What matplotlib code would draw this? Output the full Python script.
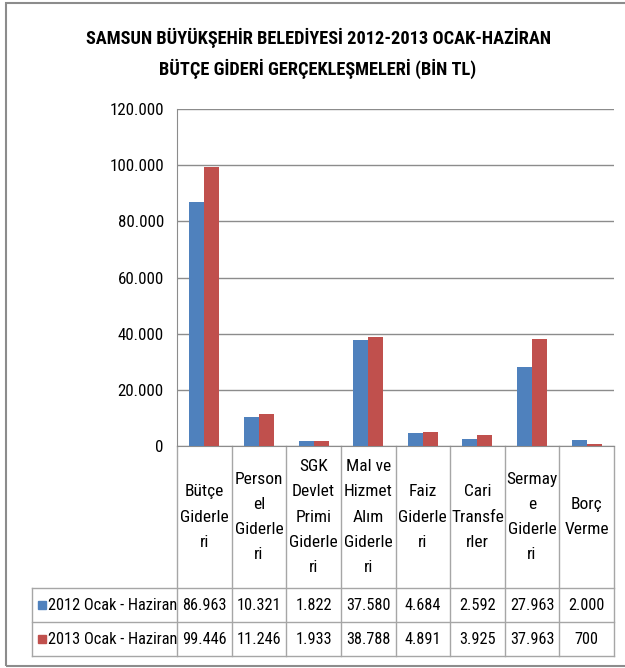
import matplotlib
matplotlib.use("Agg")
import matplotlib.pyplot as plt
from matplotlib import font_manager
from matplotlib.transforms import blended_transform_factory
from matplotlib.patches import Rectangle
from matplotlib.ticker import FuncFormatter

avail = {f.name for f in font_manager.fontManager.ttflist}
prefs = [("Roboto Condensed", 1.0), ("PT Sans Narrow", 1.05), ("Carlito", 1.0),
         ("Liberation Sans", 0.85)]
FONT, SC = "DejaVu Sans", 0.8
for name, sc in prefs:
    if name in avail:
        FONT, SC = name, sc
        break
plt.rcParams['font.family'] = [FONT, 'DejaVu Sans']

title = "SAMSUN BÜYÜKŞEHİR BELEDİYESİ 2012-2013 OCAK-HAZİRAN\nBÜTÇE GİDERİ GERÇEKLEŞMELERİ (BİN TL)"
categories = ["Bütçe\nGiderle\nri", "Person\nel\nGiderle\nri", "SGK\nDevlet\nPrimi\nGiderle\nri",
              "Mal ve\nHizmet\nAlım\nGiderle\nri", "Faiz\nGiderle\nri", "Cari\nTransfe\nrler",
              "Sermay\ne\nGiderle\nri", "Borç\nVerme"]
series_names = ["2012 Ocak - Haziran", "2013 Ocak - Haziran"]
values_2012 = [86963, 10321, 1822, 37580, 4684, 2592, 27963, 2000]
values_2013 = [99446, 11246, 1933, 38788, 4891, 3925, 37963, 700]
yticks = [0, 20000, 40000, 60000, 80000, 100000, 120000]
colors = ["#4F81BD", "#C0504D"]

W, H = 625, 668
fig = plt.figure(figsize=(W / 100, H / 100), dpi=100)

fig.patches.append(Rectangle((6 / W, 2 / H), (W + 10) / W, (664 - 1) / H, transform=fig.transFigure,
                             fill=False, edgecolor="#8c8c8c", linewidth=1.5))

left, right, top, bottom = 177, 614, 109, 446
ax = fig.add_axes([left / W, 1 - bottom / H, (right - left) / W, (bottom - top) / H])

n = len(categories)
xs = list(range(n))
bw = 0.275
ax.bar([x - bw / 2 for x in xs], values_2012, width=bw, color=colors[0], zorder=3)
ax.bar([x + bw / 2 for x in xs], values_2013, width=bw, color=colors[1], zorder=3)

ax.set_xlim(-0.5, n - 0.5)
ax.set_ylim(0, 120000)
ax.set_yticks(yticks)
ax.yaxis.set_major_formatter(FuncFormatter(lambda v, p: f"{int(v):,}".replace(",", ".")))
ax.tick_params(axis='y', length=0, labelsize=12.2 * SC, pad=9.5, colors="#000000")
ax.set_xticks([])
ax.grid(axis='y', color="#8c8c8c", linewidth=1, zorder=0)
for s in ["top", "right"]:
    ax.spines[s].set_visible(False)
ax.spines["left"].set_color("#8c8c8c")
ax.spines["bottom"].set_color("#8c8c8c")
ax.spines["left"].set_zorder(4)

fig.text(318 / W, 1 - 53.5 / H, title, ha="center", va="center", fontsize=13.2 * SC, fontweight="bold",
         linespacing=1.68)

ph = bottom - top
def ay(py):
    return -(py - bottom) / ph

tr = blended_transform_factory(ax.transData, ax.transAxes)
lc = "#a6a6a6"
y_head = ay(588)
y_r1 = ay(622)
y_r2 = ay(656)
y_top = 0.0
for b in [i - 0.5 for i in range(n + 1)]:
    ax.plot([b, b], [y_top, y_r2], color=lc, lw=1, transform=tr, clip_on=False)
x_leg = (32 - left) / (right - left) * n - 0.5
for yy in [y_head, y_r1, y_r2]:
    ax.plot([x_leg, n - 0.5], [yy, yy], color=lc, lw=1, transform=tr, clip_on=False)
ax.plot([x_leg, x_leg], [y_head, y_r2], color=lc, lw=1, transform=tr, clip_on=False)

for i, c in enumerate(categories):
    ax.text(i, (y_top + y_head) / 2, c, ha="center", va="center", fontsize=12.5 * SC, transform=tr,
            linespacing=1.85)

rows = [values_2012, values_2013]
for r, (vals, ytop_, ybot_) in enumerate(zip(rows, [y_head, y_r1], [y_r1, y_r2])):
    ym = (ytop_ + ybot_) / 2
    for i, v in enumerate(vals):
        ax.text(i, ym, f"{v:,}".replace(",", "."), ha="center", va="center", fontsize=11.7 * SC,
                transform=tr)
    kx = (38 - left) / (right - left) * n - 0.5
    kw = 8 / (right - left) * n
    kh = 8 / ph
    ax.add_patch(Rectangle((kx, ym - kh / 2), kw, kh, transform=tr, color=colors[r], clip_on=False))
    ax.text(kx + kw + 2 / (right - left) * n, ym, series_names[r], ha="left", va="center",
            fontsize=11.8 * SC, transform=tr)

fig.savefig("out.png", dpi=100)
